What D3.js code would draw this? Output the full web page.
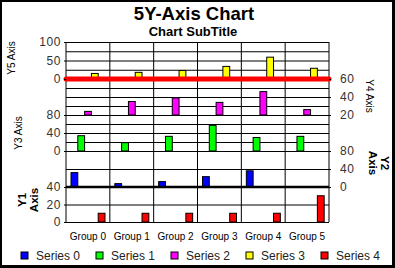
<html>
<head>
<meta charset="utf-8">
<script src="https://d3js.org/d3.v7.min.js"></script>
<style>
body { margin:0; padding:0; background:#fff; }
text { font-family: "Liberation Sans", Arial, sans-serif; }
.grid line { stroke:#000; stroke-width:1; }
.grid path { display:none; }
.tick-lbl text { fill:#333; font-size:12px; letter-spacing:0.6px; }
.tick-lbl path { display:none; }
.tick-lbl line { stroke:#000; }
</style>
</head>
<body>
<div id="chart"></div>
<script>

var groups = ["Group 0", "Group 1", "Group 2", "Group 3", "Group 4", "Group 5"];
var series = ["Series 0", "Series 1", "Series 2", "Series 3", "Series 4"];
var colors = ["#0000ff", "#00ff00", "#ff00ff", "#ffff00", "#ff0000"];

// one series per y axis
var s0 = [32, 7.5, 12, 23, 36, 0];       // Y2
var s1 = [34, 18.5, 32.6, 57, 30, 32.6]; // Y3
var s2 = [24, 35, 39, 34, 46, 26];       // Y4
var s3 = [15, 18, 23, 34, 59, 29];       // Y5
var s4 = [10, 10, 10, 10, 10, 30];       // Y1

var y5Ticks = [0, 50, 100], y4Ticks = [20, 40, 60], y3Ticks = [0, 40, 80],
    y2Ticks = [0, 40, 80], y1Ticks = [0, 20, 40];

let W = 395, H = 268;
let left = 66, right = 329;

let svg = d3.select("#chart").append("svg")
    .attr("width", W)
    .attr("height", H);

// frame with shadow
svg.append("rect").attr("width", W).attr("height", H).attr("fill", "#000");
svg.append("rect").attr("x", 2).attr("y", 2).attr("width", 390).attr("height", 263).attr("fill", "#fff");

svg.append("text")
    .attr("x", 194).attr("y", 20)
    .attr("text-anchor", "middle")
    .attr("font-size", 18.5).attr("font-weight", "bold")
    .text("5Y-Axis Chart");
svg.append("text")
    .attr("x", 193).attr("y", 36)
    .attr("text-anchor", "middle")
    .attr("font-size", 13).attr("font-weight", "bold")
    .text("Chart SubTitle");

let x0 = d3.scaleBand().domain(groups).range([left, right]);
let x1 = d3.scaleBand().domain(series).range([5, 39]);

// stacked y axes, top to bottom
let axes = [
  {name: "y5", scale: d3.scaleLinear().domain([0, 100]).range([79, 42]), grid: [0, 25, 50, 75, 100], ticks: y5Ticks, side: "left", data: s3, s: 3},
  {name: "y4", scale: d3.scaleLinear().domain([20, 60]).range([115, 79]), grid: [20, 30, 40, 50, 60], ticks: y4Ticks, side: "right", data: s2, s: 2},
  {name: "y3", scale: d3.scaleLinear().domain([0, 80]).range([151, 115]), grid: [0, 20, 40, 60, 80], ticks: y3Ticks, side: "left", data: s1, s: 1},
  {name: "y2", scale: d3.scaleLinear().domain([0, 80]).range([187, 151]), grid: [0, 40, 80], ticks: y2Ticks, side: "right", data: s0, s: 0},
  {name: "y1", scale: d3.scaleLinear().domain([0, 40]).range([222, 187]), grid: [0, 20, 40], ticks: y1Ticks, side: "left", data: s4, s: 4}
];

// horizontal grid
axes.forEach(function(a) {
  svg.append("g")
    .attr("class", "grid")
    .attr("transform", "translate(" + left + ",0)")
    .call(d3.axisLeft(a.scale).tickValues(a.grid).tickSize(-(right - left)).tickFormat(""));
});

// vertical grid at group boundaries
let bounds = groups.map(function(g) { return x0(g); }).concat([right]);
svg.append("g").selectAll("line")
  .data(bounds)
  .join("line")
    .attr("x1", function(d) { return d; })
    .attr("x2", function(d) { return d; })
    .attr("y1", 42).attr("y2", 222)
    .attr("stroke", "#000");

// bars
axes.forEach(function(a) {
  let base = a.scale.domain()[0];
  svg.append("g").selectAll("rect")
    .data(a.data.map(function(v, i) { return {group: groups[i], value: v}; }).filter(function(d) { return d.value > 0; }))
    .join("rect")
      .attr("x", function(d) { return x0(d.group) + x1(series[a.s]); })
      .attr("width", x1.bandwidth())
      .attr("y", function(d) { return a.scale(d.value); })
      .attr("height", function(d) { return a.scale(base) - a.scale(d.value); })
      .attr("fill", colors[a.s])
      .attr("stroke", "#000")
      .attr("stroke-width", 1);
});

// thick zero lines
svg.append("line")
  .attr("x1", left).attr("x2", right)
  .attr("y1", axes[0].scale(0)).attr("y2", axes[0].scale(0))
  .attr("stroke", "#ff0000").attr("stroke-width", 5).attr("stroke-linecap", "round");
svg.append("line")
  .attr("x1", left).attr("x2", right)
  .attr("y1", axes[3].scale(0)).attr("y2", axes[3].scale(0))
  .attr("stroke", "#000").attr("stroke-width", 2.5);

// tick labels
axes.forEach(function(a) {
  let ax = a.side == "left" ? d3.axisLeft(a.scale) : d3.axisRight(a.scale);
  svg.append("g")
    .attr("class", "tick-lbl")
    .attr("transform", "translate(" + (a.side == "left" ? left : right) + ",0)")
    .call(ax.tickValues(a.ticks).tickSize(2).tickPadding(a.side == "left" ? 3 : 9));
});

// axis titles
function vtext(x, y, rot, size, bold, lines) {
  let t = svg.append("text")
    .attr("transform", "translate(" + x + "," + y + ") rotate(" + rot + ")")
    .attr("text-anchor", "middle")
    .attr("font-size", size)
    .attr("font-weight", bold ? "bold" : "normal");
  lines.forEach(function(l, i) {
    t.append("tspan").attr("x", 0).attr("dy", i == 0 ? 0 : size * 1.05).text(l);
  });
}
vtext(15, 58, -90, 10, false, ["Y5 Axis"]);
vtext(22, 133, -90, 10, false, ["Y3 Axis"]);
vtext(26, 200, -90, 11.5, true, ["Y1", "Axis"]);
vtext(366, 96, 90, 10, false, ["Y4 Axis"]);
vtext(381, 163, 90, 11.5, true, ["Y2", "Axis"]);

// group labels
svg.append("g").selectAll("text")
  .data(groups)
  .join("text")
    .attr("x", function(d) { return x0(d) + x0.bandwidth() / 2; })
    .attr("y", 240)
    .attr("text-anchor", "middle")
    .attr("font-size", 10)
    .text(function(d) { return d; });

// legend
let leg = svg.append("g").selectAll("g")
  .data(series)
  .join("g")
    .attr("transform", function(d, i) { return "translate(" + (21 + i * 75) + ",252)"; });
leg.append("rect")
  .attr("width", 7).attr("height", 7)
  .attr("fill", function(d, i) { return colors[i]; })
  .attr("stroke", "#000");
leg.append("text")
  .attr("x", 15).attr("y", 8)
  .attr("font-size", 12)
  .attr("fill", "#222")
  .text(function(d) { return d; });

</script>
</body>
</html>
